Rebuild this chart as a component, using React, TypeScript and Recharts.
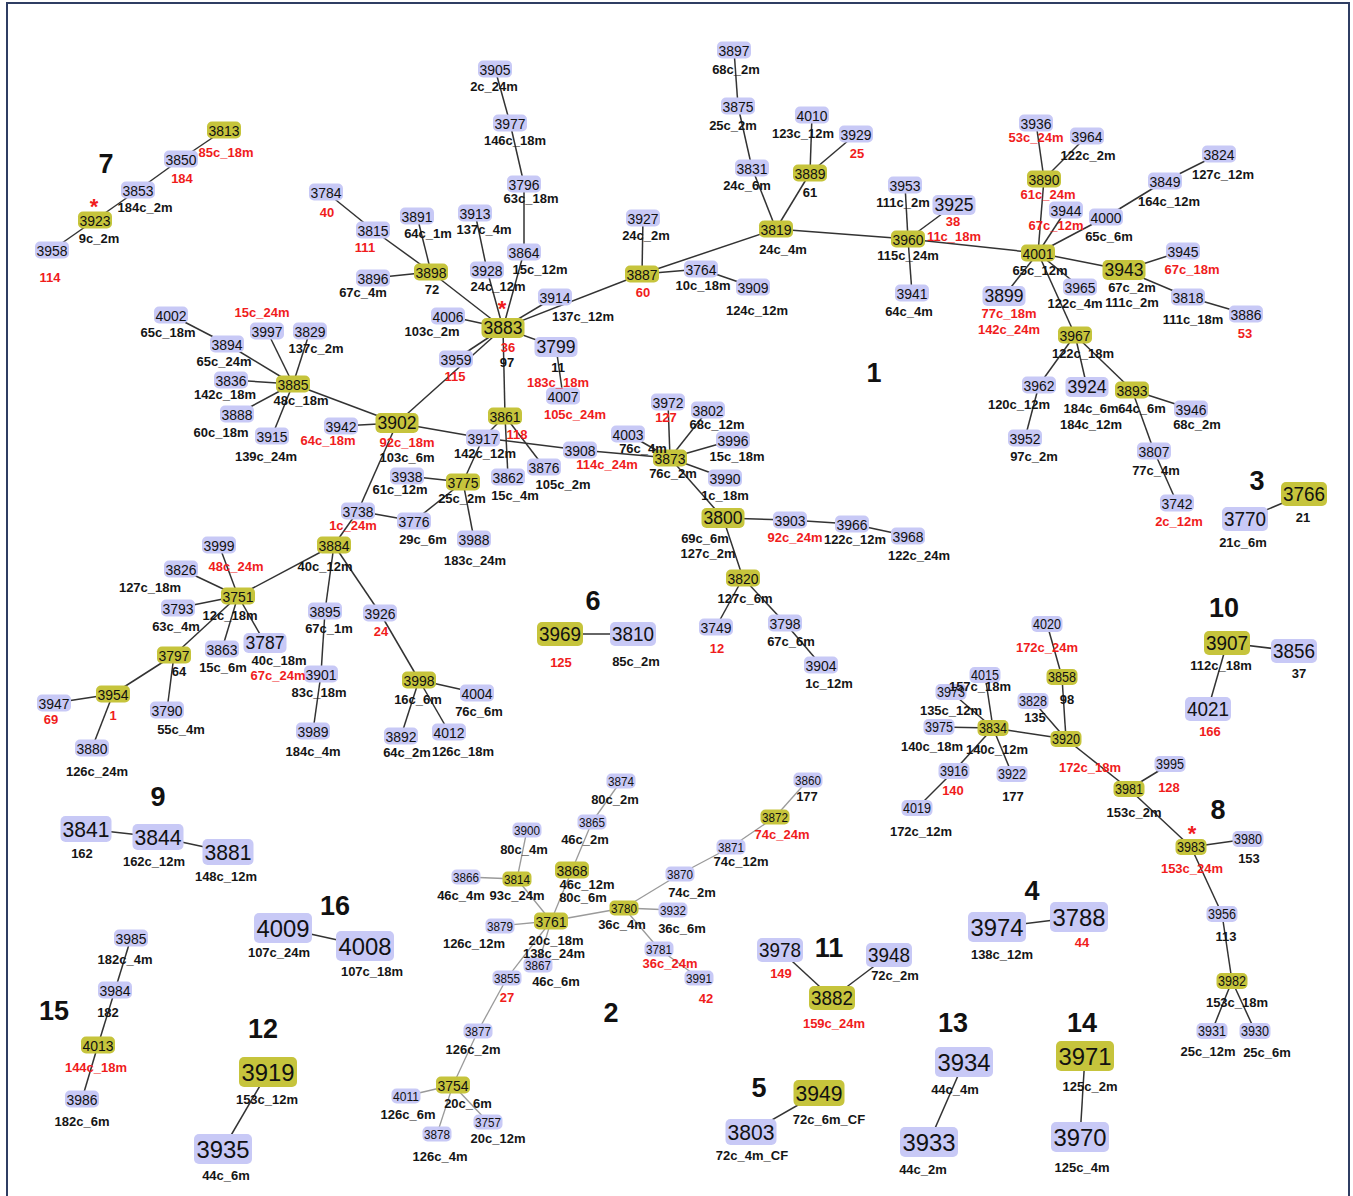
import React from "react";
import { ScatterChart, Scatter, XAxis, YAxis } from "recharts";

const W = 1353;
const H = 1196;

// node id, x, y (layout coordinates)
const nodes: [string, number, number][] = [
  ["3813", 224, 130], ["3850", 181, 159], ["3853", 138, 190], ["3923", 95, 220], ["3958", 52, 250],
  ["3784", 326, 192], ["3815", 373, 230], ["3891", 417, 216], ["3898", 431, 272], ["3896", 373, 278],
  ["3905", 495, 69], ["3977", 510, 123], ["3796", 524, 184], ["3913", 475, 213], ["3864", 524, 252],
  ["3928", 487, 270], ["3927", 643, 218], ["3887", 642, 274], ["3764", 701, 269], ["3909", 753, 287],
  ["3897", 734, 50], ["3875", 738, 106], ["4010", 812, 115], ["3929", 856, 134], ["3831", 752, 168],
  ["3889", 810, 173], ["3819", 776, 229], ["3914", 555, 297],
  ["3936", 1036, 123], ["3964", 1087, 136], ["3890", 1044, 179], ["3944", 1066, 210], ["4000", 1106, 217],
  ["3849", 1165, 181], ["3824", 1219, 154], ["3953", 905, 185], ["3925", 954, 205], ["3960", 908, 239],
  ["4001", 1038, 253], ["3943", 1124, 270], ["3945", 1183, 251], ["3818", 1188, 297], ["3886", 1246, 314],
  ["3941", 912, 293], ["3899", 1004, 296], ["3965", 1080, 287], ["3967", 1075, 335], ["3962", 1039, 385],
  ["3952", 1025, 438], ["3924", 1087, 387], ["3893", 1132, 390], ["3946", 1191, 409], ["3807", 1154, 451],
  ["3742", 1177, 503], ["3766", 1304, 494], ["3770", 1245, 519], ["3968", 908, 536],
  ["4002", 171, 315], ["3997", 267, 331], ["3829", 310, 331], ["3894", 227, 344], ["3836", 231, 380],
  ["3885", 293, 384], ["3888", 237, 414], ["3915", 272, 436], ["3942", 341, 426], ["3902", 397, 423],
  ["4006", 448, 316], ["3959", 456, 359], ["3938", 407, 476], ["3775", 463, 482], ["3738", 358, 511],
  ["3776", 414, 521], ["3884", 334, 545], ["3999", 219, 545], ["3826", 181, 569], ["3988", 474, 539],
  ["3883", 503, 328], ["3799", 556, 347], ["4007", 563, 396], ["3861", 505, 416], ["3917", 483, 438],
  ["3908", 580, 450], ["3862", 508, 477], ["3876", 544, 467], ["3972", 668, 402], ["3802", 708, 410],
  ["4003", 628, 434], ["3873", 670, 458], ["3996", 733, 440], ["3990", 725, 478], ["3800", 723, 518],
  ["3903", 790, 520], ["3966", 852, 524], ["3820", 743, 578], ["3749", 716, 627], ["3798", 785, 623],
  ["3904", 821, 665], ["3969", 560, 634], ["3810", 633, 634], ["4004", 477, 693], ["4012", 449, 732],
  ["3751", 238, 596], ["3793", 178, 608], ["3797", 174, 655], ["3863", 222, 649], ["3787", 265, 643],
  ["3954", 113, 694], ["3947", 54, 703], ["3880", 92, 748], ["3790", 167, 710], ["3895", 325, 611],
  ["3926", 380, 613], ["3901", 321, 674], ["3989", 313, 731], ["3998", 419, 680], ["3892", 401, 736],
  ["3841", 86, 829], ["3844", 158, 837], ["3881", 228, 852],
  ["3874", 621, 781], ["3865", 592, 822], ["3900", 527, 830], ["3868", 572, 870], ["3866", 466, 877],
  ["3814", 517, 879], ["3860", 808, 780], ["3872", 775, 817], ["3871", 731, 847], ["3870", 680, 874],
  ["3780", 624, 908], ["3932", 673, 910], ["3761", 551, 921], ["3879", 500, 926], ["3867", 538, 965],
  ["3855", 507, 978], ["3781", 659, 949], ["3991", 699, 978], ["3877", 478, 1031], ["3754", 453, 1085],
  ["4011", 406, 1096], ["3878", 437, 1134], ["3757", 488, 1122],
  ["3978", 780, 950], ["3948", 889, 955], ["3882", 832, 998], ["3949", 819, 1093], ["3803", 751, 1132],
  ["3985", 131, 938], ["3984", 115, 990], ["4013", 98, 1045], ["3986", 82, 1099],
  ["4009", 283, 928], ["4008", 365, 946], ["3919", 268, 1072], ["3935", 223, 1149],
  ["4020", 1047, 624], ["3858", 1062, 677], ["4015", 985, 675], ["3973", 951, 692], ["3828", 1033, 701],
  ["3975", 939, 727], ["3834", 993, 728], ["3920", 1066, 739], ["3916", 954, 771], ["3922", 1012, 774],
  ["4019", 917, 808], ["3981", 1129, 789], ["3995", 1170, 764], ["3983", 1191, 847], ["3980", 1248, 839],
  ["3956", 1222, 914], ["3982", 1232, 981], ["3931", 1212, 1031], ["3930", 1255, 1031],
  ["3907", 1227, 643], ["3856", 1294, 651], ["4021", 1208, 709],
  ["3974", 997, 927], ["3788", 1079, 917], ["3934", 964, 1062], ["3933", 929, 1142],
  ["3971", 1085, 1056], ["3970", 1080, 1137],
];

// founder types (drawn in yellow)
const founders = [
  "3813", "3923", "3898", "3887", "3889", "3819", "3890", "3960", "4001", "3943", "3967", "3893",
  "3766", "3885", "3902", "3775", "3884", "3883", "3861", "3873", "3800", "3820", "3969", "3751",
  "3797", "3954", "3998", "3868", "3814", "3872", "3780", "3761", "3754", "3882", "3949", "4013",
  "3919", "3858", "3834", "3920", "3981", "3983", "3982", "3907", "3971",
];

const edges: [string, string][] = [
  ["3813", "3850"], ["3850", "3853"], ["3853", "3923"], ["3923", "3958"],
  ["3784", "3815"], ["3815", "3898"], ["3891", "3898"], ["3896", "3898"], ["3898", "3883"],
  ["3905", "3977"], ["3977", "3796"], ["3796", "3864"], ["3864", "3883"], ["3913", "3928"], ["3928", "3883"],
  ["4006", "3883"], ["3914", "3883"], ["3883", "3887"], ["3927", "3887"], ["3887", "3764"], ["3764", "3909"],
  ["3887", "3819"], ["3897", "3875"], ["3875", "3831"], ["3831", "3819"], ["4010", "3889"], ["3929", "3889"],
  ["3889", "3819"], ["3819", "3960"], ["3953", "3960"], ["3925", "3960"], ["3960", "3941"], ["3960", "4001"],
  ["3936", "3890"], ["3964", "3890"], ["3890", "4001"], ["3944", "4001"], ["4000", "4001"], ["4000", "3849"],
  ["3849", "3824"], ["4001", "3943"], ["3943", "3945"], ["3943", "3818"], ["3818", "3886"], ["4001", "3899"],
  ["4001", "3965"], ["4001", "3967"], ["3967", "3962"], ["3962", "3952"], ["3967", "3924"], ["3967", "3893"],
  ["3893", "3946"], ["3893", "3807"], ["3807", "3742"],
  ["3883", "3959"], ["3883", "3902"], ["3883", "3799"], ["3799", "4007"], ["3883", "3861"],
  ["3861", "3917"], ["3861", "3862"], ["3861", "3876"], ["3902", "3917"], ["3917", "3908"], ["3908", "3873"],
  ["3917", "3775"], ["3775", "3938"], ["3775", "3776"], ["3775", "3988"], ["3902", "3885"], ["3902", "3942"],
  ["3902", "3738"], ["3738", "3776"], ["3738", "3884"],
  ["3885", "3894"], ["3894", "4002"], ["3885", "3997"], ["3885", "3829"], ["3885", "3836"], ["3885", "3888"],
  ["3885", "3915"], ["3884", "3751"], ["3884", "3895"], ["3884", "3926"], ["3895", "3901"], ["3901", "3989"],
  ["3926", "3998"], ["3998", "4004"], ["3998", "3892"], ["3998", "4012"],
  ["3751", "3999"], ["3751", "3826"], ["3751", "3793"], ["3751", "3797"], ["3751", "3863"], ["3751", "3787"],
  ["3797", "3954"], ["3797", "3790"], ["3954", "3947"], ["3954", "3880"],
  ["3873", "3972"], ["3873", "3802"], ["3873", "3996"], ["3873", "3990"], ["3873", "4003"], ["3873", "3800"],
  ["3800", "3903"], ["3903", "3966"], ["3966", "3968"], ["3800", "3820"], ["3820", "3749"], ["3820", "3798"],
  ["3798", "3904"],
  ["3766", "3770"], ["3969", "3810"], ["3841", "3844"], ["3844", "3881"],
  ["3874", "3865"], ["3865", "3868"], ["3868", "3761"], ["3900", "3814"], ["3866", "3814"], ["3814", "3761"],
  ["3879", "3761"], ["3761", "3780"], ["3761", "3867"], ["3761", "3855"], ["3855", "3877"], ["3877", "3754"],
  ["3754", "4011"], ["3754", "3878"], ["3754", "3757"], ["3780", "3870"], ["3870", "3871"], ["3871", "3872"],
  ["3872", "3860"], ["3780", "3932"], ["3780", "3781"], ["3781", "3991"],
  ["4020", "3858"], ["3858", "3920"], ["3828", "3920"], ["3834", "3920"], ["3834", "4015"], ["3834", "3973"],
  ["3834", "3975"], ["3834", "3916"], ["3834", "3922"], ["3916", "4019"], ["3920", "3981"], ["3981", "3995"],
  ["3981", "3983"], ["3983", "3980"], ["3983", "3956"], ["3956", "3982"], ["3982", "3931"], ["3982", "3930"],
  ["3907", "3856"], ["3907", "4021"], ["4009", "4008"], ["3919", "3935"], ["3985", "3984"], ["3984", "4013"],
  ["4013", "3986"], ["3978", "3882"], ["3948", "3882"], ["3949", "3803"], ["3974", "3788"], ["3934", "3933"],
  ["3971", "3970"],
];

// text, x, y, colour key ("r" = red, "k" = black)
const notes: [string, number, number, string][] = [
  ["85c_18m", 226, 152, "r"], ["184", 182, 178, "r"], ["184c_2m", 145, 207, "k"], ["9c_2m", 99, 238, "k"], ["114", 50, 277, "r"],
  ["40", 327, 212, "r"], ["111", 365, 247, "r"], ["64c_1m", 428, 233, "k"], ["72", 432, 289, "k"], ["67c_4m", 363, 292, "k"],
  ["2c_24m", 494, 86, "k"], ["146c_18m", 515, 140, "k"], ["63c_18m", 531, 198, "k"], ["137c_4m", 484, 229, "k"],
  ["15c_12m", 540, 269, "k"], ["24c_12m", 498, 286, "k"], ["24c_2m", 646, 235, "k"], ["60", 643, 292, "r"],
  ["10c_18m", 703, 285, "k"], ["124c_12m", 757, 310, "k"], ["68c_2m", 736, 69, "k"], ["25c_2m", 733, 125, "k"],
  ["123c_12m", 803, 133, "k"], ["25", 857, 153, "r"], ["24c_6m", 747, 185, "k"], ["61", 810, 192, "k"],
  ["24c_4m", 783, 249, "k"], ["137c_12m", 583, 316, "k"], ["103c_2m", 432, 331, "k"], ["36", 508, 347, "r"],
  ["97", 507, 362, "k"], ["115", 455, 376, "r"], ["11", 558, 367, "k"], ["183c_18m", 558, 382, "r"],
  ["105c_24m", 575, 414, "r"], ["118", 517, 434, "r"], ["142c_12m", 485, 453, "k"], ["114c_24m", 607, 464, "r"],
  ["15c_4m", 515, 495, "k"], ["105c_2m", 563, 484, "k"], ["25c_2m", 462, 498, "k"], ["183c_24m", 475, 560, "k"],
  ["61c_12m", 400, 489, "k"], ["1c_24m", 353, 525, "r"], ["29c_6m", 423, 539, "k"],
  ["15c_24m", 262, 312, "r"], ["65c_18m", 168, 332, "k"], ["137c_2m", 316, 348, "k"], ["65c_24m", 224, 361, "k"],
  ["142c_18m", 225, 394, "k"], ["48c_18m", 301, 400, "k"], ["60c_18m", 221, 432, "k"], ["139c_24m", 266, 456, "k"],
  ["64c_18m", 328, 440, "r"], ["92c_18m", 407, 442, "r"], ["103c_6m", 407, 457, "k"],
  ["40c_12m", 325, 566, "k"], ["48c_24m", 236, 566, "r"], ["127c_18m", 150, 587, "k"],
  ["12c_18m", 230, 615, "k"], ["63c_4m", 176, 626, "k"], ["64", 179, 671, "k"], ["15c_6m", 223, 667, "k"],
  ["40c_18m", 279, 660, "k"], ["67c_24m", 278, 675, "r"], ["1", 113, 715, "r"], ["69", 51, 719, "r"],
  ["126c_24m", 97, 771, "k"], ["55c_4m", 181, 729, "k"], ["67c_1m", 329, 628, "k"], ["24", 381, 631, "r"],
  ["83c_18m", 319, 692, "k"], ["184c_4m", 313, 751, "k"], ["16c_6m", 418, 699, "k"], ["64c_2m", 407, 752, "k"],
  ["126c_18m", 463, 751, "k"], ["76c_6m", 479, 711, "k"],
  ["127", 666, 417, "r"], ["68c_12m", 717, 424, "k"], ["76c_4m", 643, 448, "k"], ["76c_2m", 673, 473, "k"],
  ["15c_18m", 737, 456, "k"], ["1c_18m", 725, 495, "k"], ["69c_6m", 705, 538, "k"], ["127c_2m", 708, 553, "k"],
  ["92c_24m", 795, 537, "r"], ["122c_12m", 855, 539, "k"], ["122c_24m", 919, 555, "k"], ["127c_6m", 745, 598, "k"],
  ["12", 717, 648, "r"], ["67c_6m", 791, 641, "k"], ["1c_12m", 829, 683, "k"],
  ["53c_24m", 1036, 137, "r"], ["122c_2m", 1088, 155, "k"], ["61c_24m", 1048, 194, "r"], ["67c_12m", 1056, 225, "r"],
  ["65c_6m", 1109, 236, "k"], ["164c_12m", 1169, 201, "k"], ["127c_12m", 1223, 174, "k"], ["111c_2m", 903, 202, "k"],
  ["38", 953, 221, "r"], ["11c_18m", 954, 236, "r"], ["115c_24m", 908, 255, "k"], ["65c_12m", 1040, 270, "k"],
  ["67c_2m", 1132, 287, "k"], ["111c_2m", 1132, 302, "k"], ["67c_18m", 1192, 269, "r"], ["111c_18m", 1193, 319, "k"],
  ["53", 1245, 333, "r"], ["64c_4m", 909, 311, "k"], ["77c_18m", 1009, 313, "r"], ["142c_24m", 1009, 329, "r"],
  ["122c_4m", 1075, 303, "k"], ["122c_18m", 1083, 353, "k"], ["120c_12m", 1019, 404, "k"], ["97c_2m", 1034, 456, "k"],
  ["184c_6m", 1091, 408, "k"], ["184c_12m", 1091, 424, "k"], ["64c_6m", 1142, 408, "k"], ["68c_2m", 1197, 424, "k"],
  ["77c_4m", 1156, 470, "k"], ["2c_12m", 1179, 521, "r"], ["21", 1303, 517, "k"], ["21c_6m", 1243, 542, "k"],
  ["125", 561, 662, "r"], ["85c_2m", 636, 661, "k"],
  ["162", 82, 853, "k"], ["162c_12m", 154, 861, "k"], ["148c_12m", 226, 876, "k"],
  ["80c_2m", 615, 799, "k"], ["46c_2m", 585, 839, "k"], ["80c_4m", 524, 849, "k"], ["46c_12m", 587, 884, "k"],
  ["80c_6m", 583, 897, "k"], ["46c_4m", 461, 895, "k"], ["93c_24m", 517, 895, "k"], ["177", 807, 796, "k"],
  ["74c_24m", 782, 834, "r"], ["74c_12m", 741, 861, "k"], ["74c_2m", 692, 892, "k"], ["36c_4m", 622, 924, "k"],
  ["36c_6m", 682, 928, "k"], ["126c_12m", 474, 943, "k"], ["20c_18m", 556, 940, "k"], ["138c_24m", 554, 953, "k"],
  ["46c_6m", 556, 981, "k"], ["27", 507, 997, "r"], ["36c_24m", 670, 963, "r"], ["42", 706, 998, "r"],
  ["126c_2m", 473, 1049, "k"], ["20c_6m", 468, 1103, "k"], ["20c_12m", 498, 1138, "k"], ["126c_6m", 408, 1114, "k"],
  ["126c_4m", 440, 1156, "k"],
  ["149", 781, 973, "r"], ["72c_2m", 895, 975, "k"], ["159c_24m", 834, 1023, "r"],
  ["72c_6m_CF", 829, 1119, "k"], ["72c_4m_CF", 752, 1155, "k"],
  ["182c_4m", 125, 959, "k"], ["182", 108, 1012, "k"], ["144c_18m", 96, 1067, "r"], ["182c_6m", 82, 1121, "k"],
  ["107c_24m", 279, 952, "k"], ["107c_18m", 372, 971, "k"], ["153c_12m", 267, 1099, "k"], ["44c_6m", 226, 1175, "k"],
  ["172c_24m", 1047, 647, "r"], ["98", 1067, 699, "k"], ["157c_18m", 980, 686, "k"], ["135c_12m", 951, 710, "k"],
  ["135", 1035, 717, "k"], ["140c_18m", 932, 746, "k"], ["140c_12m", 997, 749, "k"], ["172c_18m", 1090, 767, "r"],
  ["140", 953, 790, "r"], ["177", 1013, 796, "k"], ["172c_12m", 921, 831, "k"], ["153c_2m", 1134, 812, "k"],
  ["128", 1169, 787, "r"], ["153c_24m", 1192, 868, "r"], ["153", 1249, 858, "k"], ["113", 1226, 936, "k"],
  ["153c_18m", 1237, 1002, "k"], ["25c_12m", 1208, 1051, "k"], ["25c_6m", 1267, 1052, "k"],
  ["112c_18m", 1221, 665, "k"], ["37", 1299, 673, "k"], ["166", 1210, 731, "r"],
  ["138c_12m", 1002, 954, "k"], ["44", 1082, 942, "r"],
  ["44c_4m", 955, 1089, "k"], ["44c_2m", 923, 1169, "k"], ["125c_2m", 1090, 1086, "k"], ["125c_4m", 1082, 1167, "k"],
];

// cluster numbers
const clusterTags: [string, number, number][] = [
  ["7", 106, 163], ["1", 874, 372], ["3", 1257, 480], ["6", 593, 600], ["10", 1224, 607], ["9", 158, 796],
  ["8", 1218, 809], ["16", 335, 905], ["4", 1032, 890], ["11", 829, 947], ["2", 611, 1012], ["15", 54, 1010],
  ["12", 263, 1028], ["13", 953, 1022], ["14", 1082, 1022], ["5", 759, 1087],
];

// asterisk markers
const stars: [number, number][] = [[94, 202], [502, 304], [1192, 829]];

// box styles: [fontSize, boxWidth, boxHeight, textLength]
const boxTiers: Record<string, [number, number, number, number]> = {
  s: [13.5, 29, 15, 26],
  c: [14, 31, 16, 28],
  n: [15.5, 34, 17, 31],
  m: [17.5, 43, 20, 39],
  l: [20.5, 46, 24, 42],
  xl: [22, 51, 26, 47],
  xxl: [24, 58, 30, 53],
};
const tierIds: Record<string, string[]> = {
  s: ["3874", "3865", "3900", "3866", "3814", "3860", "3872", "3871", "3870", "3780", "3932", "3879",
    "3867", "3855", "3781", "3991", "3877", "4011", "3878", "3757"],
  c: ["4020", "3858", "4015", "3973", "3828", "3975", "3834", "3920", "3916", "3922", "4019", "3981",
    "3995", "3983", "3980", "3956", "3982", "3931", "3930"],
  m: ["3883", "3902", "3799", "3800", "3943", "3925", "3924", "3787", "3899"],
  l: ["3969", "3810", "3907", "3856", "4021", "3766", "3770", "3978", "3948", "3882"],
  xl: ["3841", "3844", "3881", "3949", "3803"],
  xxl: ["3974", "3788", "3934", "3933", "3971", "3970", "4009", "4008", "3919", "3935"],
};
const paleEdgeIds = tierIds.s.concat(["3868", "3761", "3754"]);

const FONT = "'Liberation Sans', Arial, sans-serif";
const YELLOW = "#c6c43c";
const LAVENDER = "#c8c9f6";
const RED = "#f01c1c";

const tierOf = (id: string) => {
  for (const k of Object.keys(tierIds)) if (tierIds[k].includes(id)) return k;
  return "n";
};

const pos: Record<string, { x: number; y: number }> = {};
nodes.forEach(([id, x, y]) => (pos[id] = { x, y }));

const nodeData = nodes.map(([id, x, y]) => ({ id, x, y }));
const noteData = notes.map(([text, x, y, c]) => ({ text, x, y, red: c === "r" }));
const tagData = clusterTags.map(([text, x, y]) => ({ text, x, y }));
const starData = stars.map(([x, y]) => ({ x, y }));

const Blank = () => <g />;

const NodeBox = (props: any) => {
  const { cx, cy, payload } = props;
  if (cx == null || cy == null) return <g />;
  const [fs, w, h, tl] = boxTiers[tierOf(payload.id)];
  const fill = founders.includes(payload.id) ? YELLOW : LAVENDER;
  return (
    <g>
      <rect x={cx - w / 2} y={cy - h / 2} width={w} height={h} rx={5} ry={5} fill={fill} />
      <text
        x={cx}
        y={cy + fs * 0.36}
        textAnchor="middle"
        fontSize={fs}
        fontFamily={FONT}
        textLength={tl}
        lengthAdjust="spacingAndGlyphs"
        fill="#111"
      >
        {payload.id}
      </text>
    </g>
  );
};

const NoteText = (props: any) => {
  const { cx, cy, payload } = props;
  if (cx == null || cy == null) return <g />;
  return (
    <text x={cx} y={cy + 4.7} textAnchor="middle" fontSize={13} fontWeight="bold" fontFamily={FONT}
      fill={payload.red ? RED : "#151515"}>
      {payload.text}
    </text>
  );
};

const TagText = (props: any) => {
  const { cx, cy, payload } = props;
  if (cx == null || cy == null) return <g />;
  return (
    <text x={cx} y={cy + 9.5} textAnchor="middle" fontSize={27} fontWeight="bold" fontFamily={FONT} fill="#111">
      {payload.text}
    </text>
  );
};

const StarMark = (props: any) => {
  const { cx, cy } = props;
  if (cx == null || cy == null) return <g />;
  return (
    <text x={cx} y={cy + 11.5} textAnchor="middle" fontSize={22} fontWeight="bold" fontFamily={FONT} fill={RED}>
      *
    </text>
  );
};

export default function App() {
  return (
    <div style={{ position: "absolute", left: 0, top: 0, width: W, height: H, overflow: "hidden", background: "#fff" }}>
      <div
        style={{
          position: "absolute",
          left: 6,
          top: 2,
          width: 1344,
          height: 1210,
          border: "2px solid #2f3d63",
          boxSizing: "border-box",
        }}
      />
      <div style={{ position: "absolute", left: 0, top: 0 }}>
        <ScatterChart width={W} height={H} margin={{ top: 0, right: 0, bottom: 0, left: 0 }}>
          <XAxis type="number" dataKey="x" domain={[0, W]} scale="linear" allowDataOverflow hide />
          <YAxis type="number" dataKey="y" domain={[0, H]} scale="linear" allowDataOverflow reversed hide />
          {edges.map(([a, b], i) => {
            const pale = paleEdgeIds.includes(a) && paleEdgeIds.includes(b);
            return (
              <Scatter
                key={`e${i}`}
                data={[pos[a], pos[b]]}
                line={{ stroke: pale ? "#9a9a9a" : "#333", strokeWidth: pale ? 1.3 : 1.5 }}
                shape={Blank}
                isAnimationActive={false}
              />
            );
          })}
          <Scatter data={nodeData} shape={NodeBox} isAnimationActive={false} />
          <Scatter data={noteData} shape={NoteText} isAnimationActive={false} />
          <Scatter data={tagData} shape={TagText} isAnimationActive={false} />
          <Scatter data={starData} shape={StarMark} isAnimationActive={false} />
        </ScatterChart>
      </div>
    </div>
  );
}
